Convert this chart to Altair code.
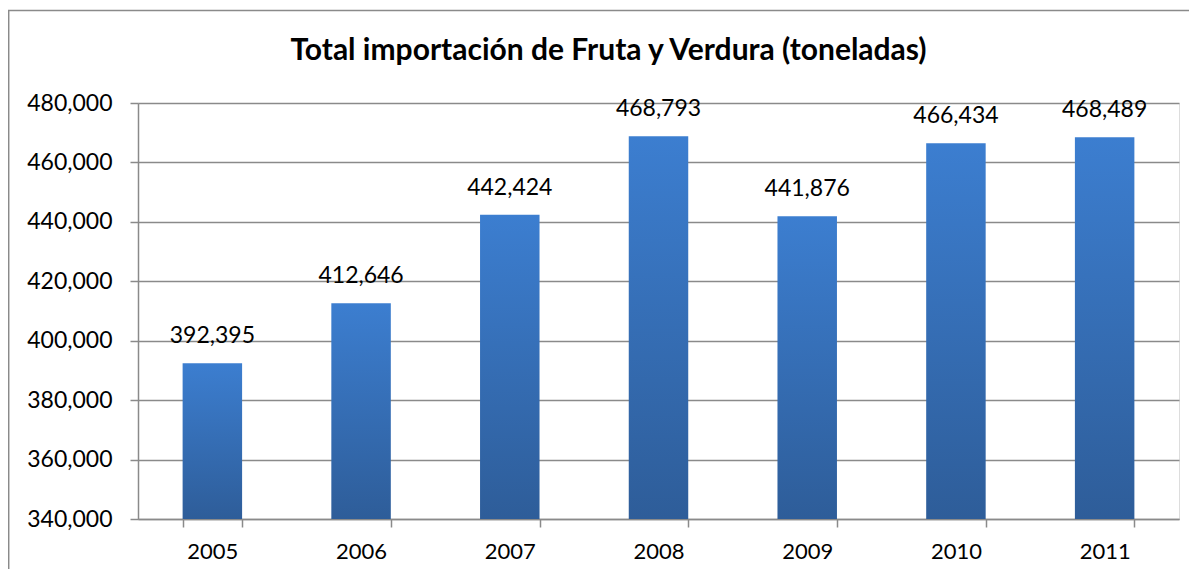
import altair as alt
import pandas as pd

years = ["2005", "2006", "2007", "2008", "2009", "2010", "2011"]
values = [392395, 412646, 442424, 468793, 441876, 466434, 468489]
y_ticks = [340000, 360000, 380000, 400000, 420000, 440000, 460000, 480000]
title_text = "Total importación de Fruta y Verdura (toneladas)"

df = pd.DataFrame({"year": years, "value": values})

FONT = "Lato"
GRAY = "#8a8a8a"
W, H = 1041, 416

x_enc = alt.X(
    "year:N",
    sort=years,
    title=None,
    scale=alt.Scale(paddingInner=0.6, paddingOuter=0.3),
    axis=alt.Axis(
        labelAngle=0, labelFont=FONT, labelFontSize=22, labelColor="black",
        labelPadding=14, tickSize=8, tickColor=GRAY, tickWidth=1.5,
        tickBand="extent", domainColor=GRAY, domainWidth=1.5, grid=False,
    ),
)
y_enc = alt.Y(
    "value:Q",
    title=None,
    scale=alt.Scale(domain=[340000, 480000], zero=False, nice=False),
    axis=alt.Axis(
        values=y_ticks, labelExpr="format(datum.value, ',')",
        labelFont=FONT, labelFontSize=23,
        labelColor="black", labelPadding=18, tickSize=8, tickColor=GRAY,
        tickWidth=1.5, domainColor=GRAY, domainWidth=1.5, grid=True,
        gridColor=GRAY, gridWidth=1.5,
    ),
)

base = alt.Chart(df)

bars = base.mark_bar(
    color=alt.Gradient(
        gradient="linear",
        stops=[alt.GradientStop(color="#3C7ED0", offset=0),
               alt.GradientStop(color="#2E5D99", offset=1)],
        x1=1, x2=1, y1=0, y2=1,
    )
).encode(x=x_enc, y=y_enc, y2=alt.datum(340000))

labels = base.mark_text(
    font=FONT, fontSize=23, color="black", baseline="middle", dy=-27
).encode(x=x_enc, y=y_enc, text=alt.Text("value:Q", format=","))

frame = alt.Chart(pd.DataFrame({"k": [0]})).mark_rect(
    fill="transparent", stroke=GRAY, strokeWidth=1.5
).encode(
    x=alt.value(-129.3), x2=alt.value(W + 60),
    y=alt.value(-92.5), y2=alt.value(H + 100),
)

chart = alt.layer(frame, bars, labels).properties(
    width=W, height=H,
    title=alt.TitleParams(
        title_text, font=FONT, fontSize=30, fontWeight="bold", color="black",
        anchor="middle", dx=-50, offset=24, dy=80,
    ),
    autosize=alt.AutoSizeParams(type="none"),
    padding={"left": 130, "top": 95, "right": 10, "bottom": 50},
).configure_view(stroke=None).configure(background="white")

chart.save("out.html", embed_options={"renderer": "svg", "actions": False})
